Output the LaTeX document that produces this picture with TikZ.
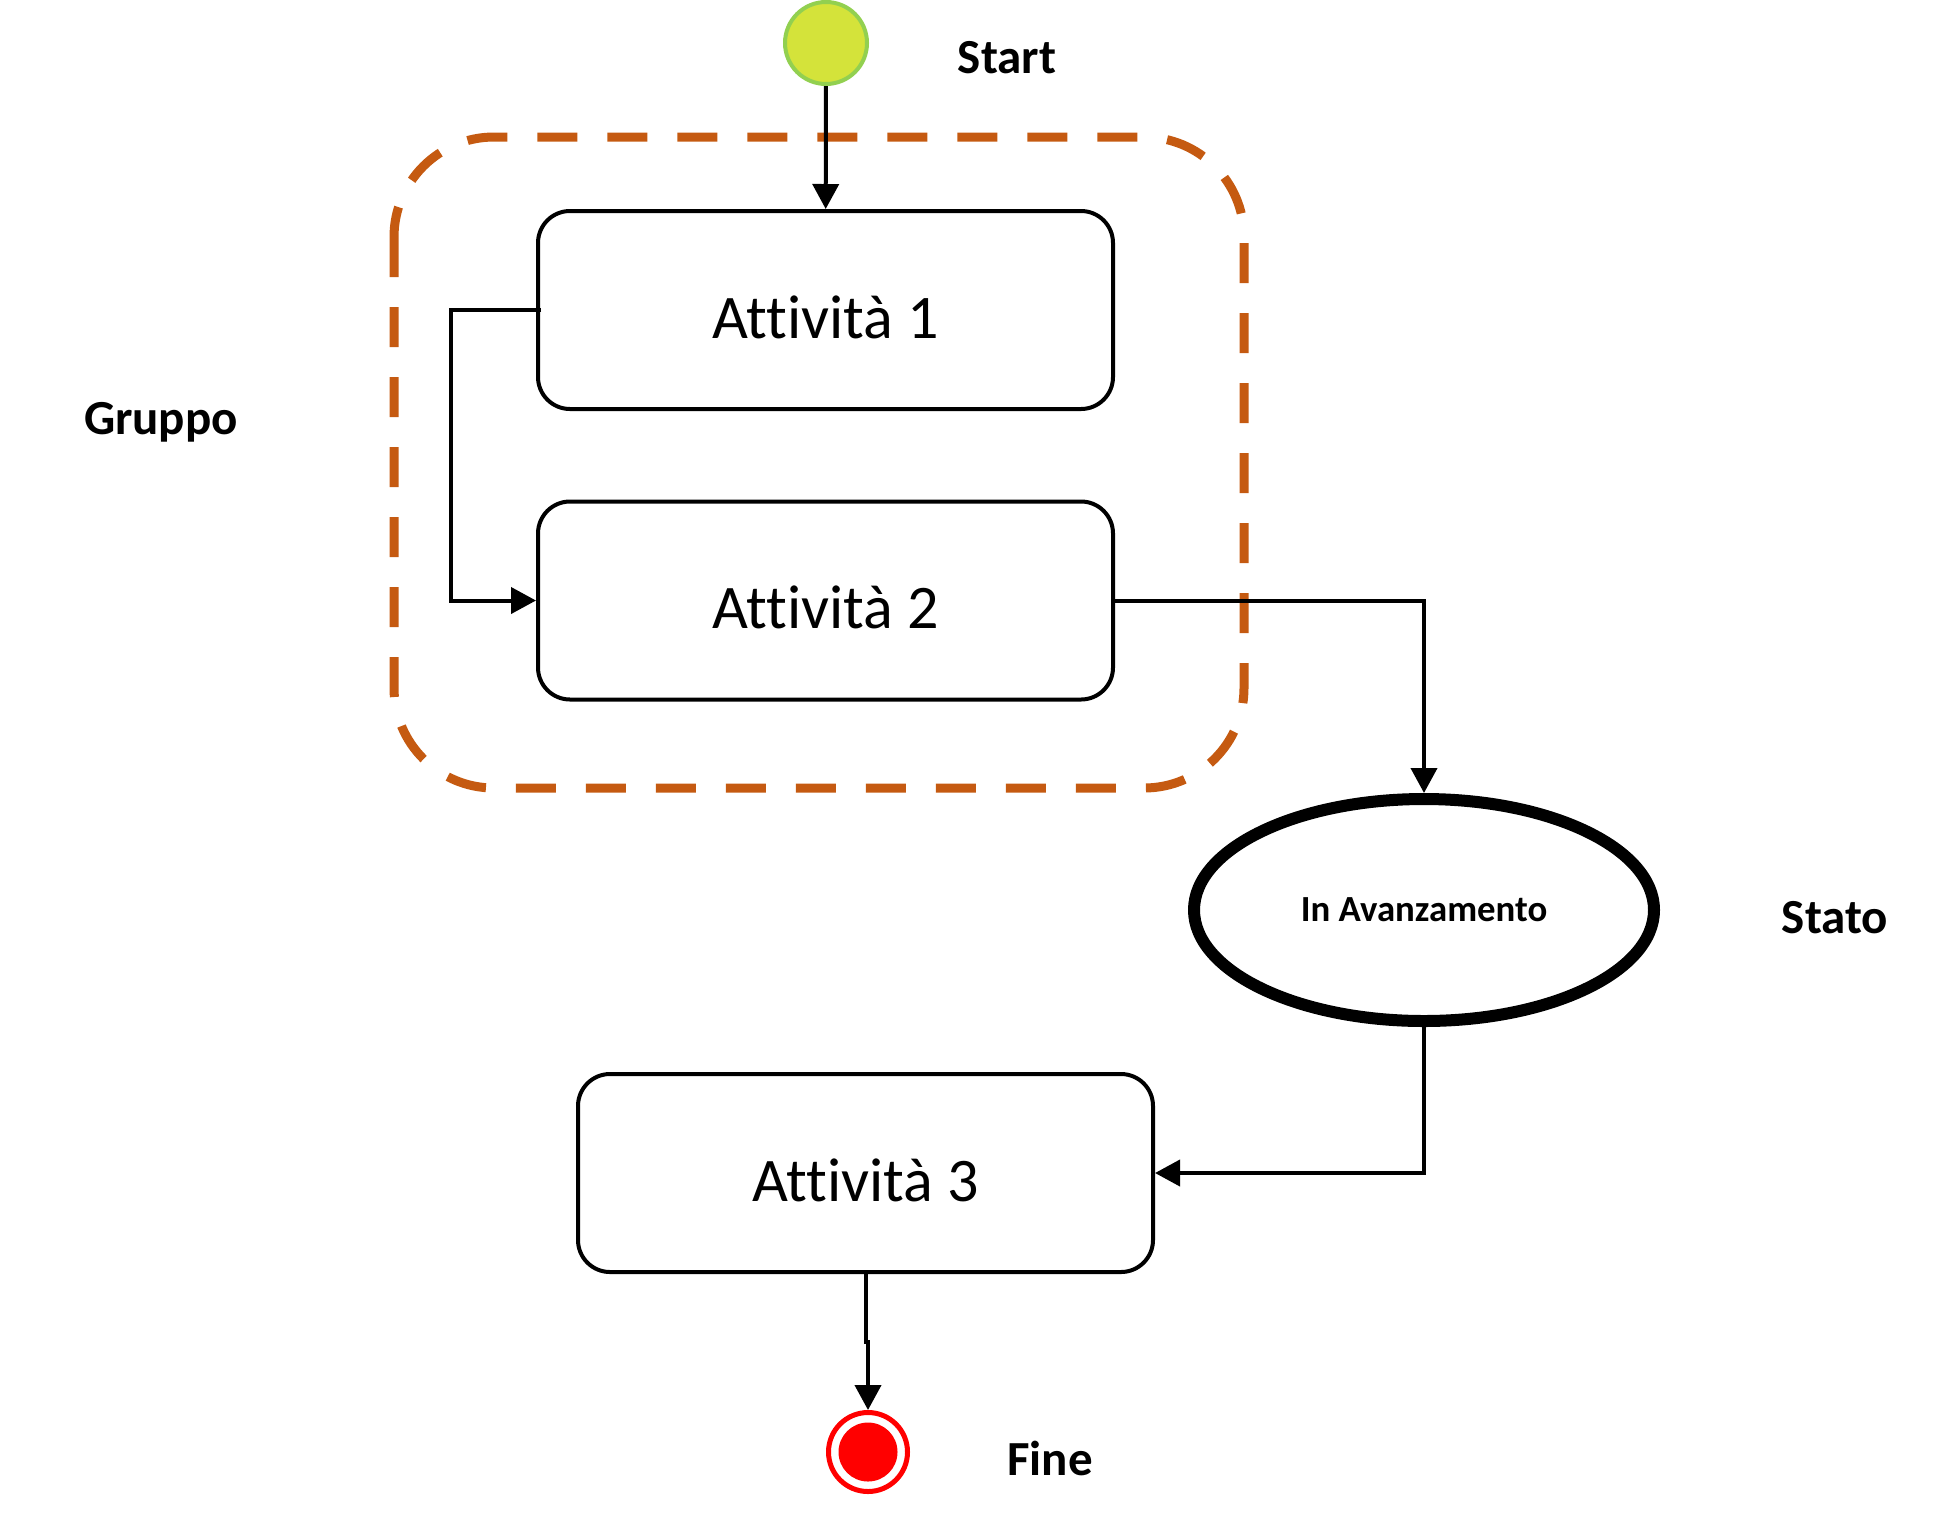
\documentclass[tikz,border=0pt]{standalone}
\usepackage{fontspec}
\setmainfont{Carlito}[Ligatures=NoCommon]
\usetikzlibrary{arrows.meta,shapes.geometric}
\definecolor{startfill}{RGB}{212,227,58}
\definecolor{startdraw}{RGB}{146,208,80}
\definecolor{gruppocol}{RGB}{197,90,17}
\begin{document}
\begin{tikzpicture}[x=0.5pt,y=-0.5pt,
    activity/.style={draw,line width=2pt,rounded corners=16pt,minimum width=287.5pt,
        minimum height=99pt,inner sep=0pt,text height=28pt,text depth=0pt,font=\fontsize{31}{37}\selectfont},
    tag/.style={font=\bfseries\fontsize{24.5}{29}\selectfont},
    link/.style={line width=2pt,-{Triangle[length=12.5pt,width=13pt]}}]
    \useasboundingbox (0,0) rectangle (1936,1516);

    \draw[gruppocol,line width=4.5pt,dash pattern=on 20pt off 15pt,rounded corners=50pt]
        (394,137) rectangle (1244,788);

    \node[circle,fill=startfill,draw=startdraw,line width=2pt,minimum size=41pt,inner sep=0pt]
        (start) at (826,43) {};
    \node[activity] (att1) at (825.5,310) {Attività 1};
    \node[activity] (att2) at (825.5,600.5) {Attività 2};
    \node[ellipse,draw,line width=6pt,minimum width=230pt,minimum height=111pt,inner sep=0pt,
        font=\bfseries\fontsize{18.4}{22}\selectfont] (avanz) at (1424,910) {In Avanzamento};
    \node[activity] (att3) at (865.5,1173) {Attività 3};
    \node[circle,draw=red,line width=2.5pt,minimum size=39.5pt,inner sep=0pt] (fine) at (868,1452) {};
    \fill[red] (fine.center) circle (14.75pt);

    \node[tag] (startlbl) at (1007,58) {Start};
    \node[tag] (gruppolbl) at (161,422) {Gruppo};
    \node[tag] (statolbl) at (1835,918) {Stato};
    \node[tag] (finelbl) at (1050,1458) {Fine};

    \draw[link] (start) -- (att1);
    \draw[link] ([xshift=2.5pt]att1.west) -- ++(-90,0) |- (att2.west);
    \draw[link] (att2.east) -| (avanz.north);
    \draw[link] (avanz.south) |- (att3.east);
    \draw[link] (att3.south) -- ++(0,68) -| (fine.north);
\end{tikzpicture}
\end{document}
